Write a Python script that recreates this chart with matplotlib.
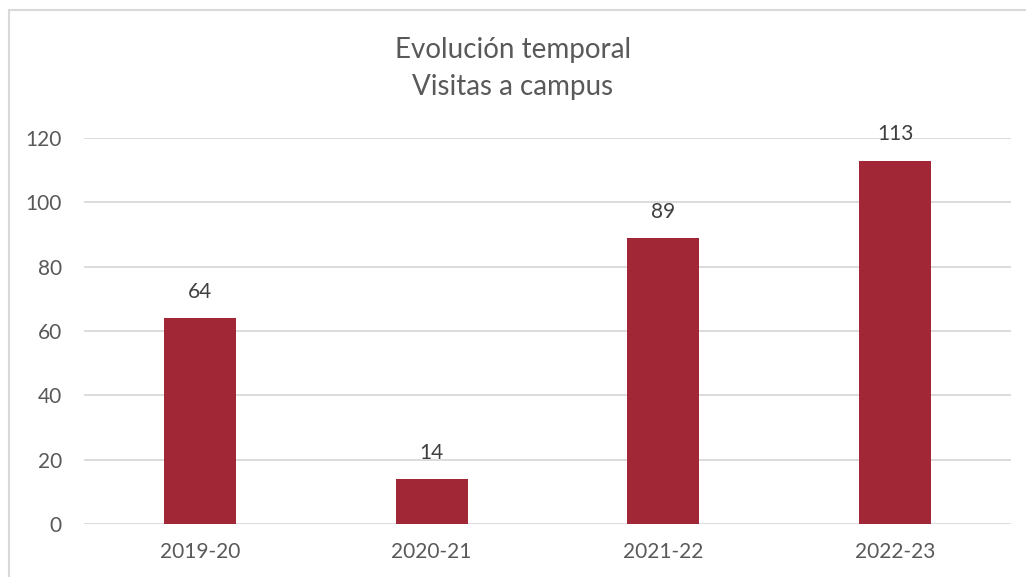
import matplotlib

matplotlib.use("Agg")
import matplotlib.pyplot as plt  # noqa: E402
from matplotlib.patches import Rectangle  # noqa: E402

categories = ["2019-20", "2020-21", "2021-22", "2022-23"]
visitas = [64, 14, 89, 113]
yticks = [0, 20, 40, 60, 80, 100, 120]

BAR = "#A12736"
TXT = "#595959"
GRID = "#D9D9D9"

plt.rcParams["font.family"] = ["Lato", "DejaVu Sans"]

fig = plt.figure(figsize=(10.26, 5.77), dpi=100)
# chart frame: only the left and top edges fall inside the picture
fig.patches.append(
    Rectangle((8.5 / 1026, -0.1), 1.2, 1 - 10 / 577 + 0.1,
              transform=fig.transFigure, fill=False, edgecolor=GRID, lw=1.5)
)
ax = fig.add_axes([84 / 1026, 1 - 524 / 577, 927 / 1026, (524 - 138) / 577])

x = range(len(categories))
bars = ax.bar(x, visitas, width=0.31, color=BAR, zorder=3)
for b, v in zip(bars, visitas):
    ax.text(b.get_x() + b.get_width() / 2, v + 5, str(v), ha="center",
            va="bottom", fontsize=15, color="#404040")

ax.set_xlim(-0.5, len(categories) - 0.5)
ax.set_ylim(0, 120)
ax.set_yticks(yticks)
ax.set_xticks(list(x), categories)
ax.yaxis.grid(True, color=GRID, lw=1.3, zorder=0)
for s in ax.spines.values():
    s.set_visible(False)
ax.tick_params(length=0, labelsize=15, colors=TXT)
ax.tick_params(axis="y", pad=16)
ax.tick_params(axis="x", pad=13)

fig.text(0.5, 1 - 50 / 577, "Evolución temporal", ha="center", va="center",
         fontsize=20, color=TXT)
fig.text(0.5, 1 - 87 / 577, "Visitas a campus", ha="center", va="center",
         fontsize=20, color=TXT)

fig.savefig("out.png", dpi=100)
